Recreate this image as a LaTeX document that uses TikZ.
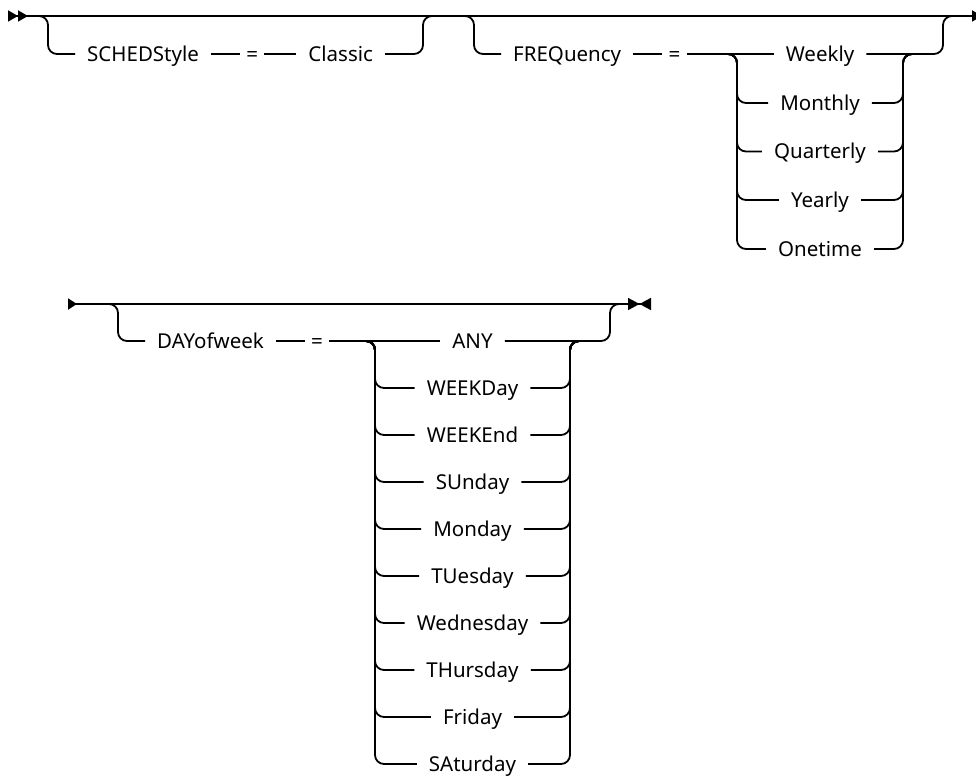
\documentclass[tikz,border=0pt]{standalone}
\usepackage{fontspec}
\setmainfont{Noto Sans}
\usetikzlibrary{positioning,arrows.meta}

\begin{document}
\begin{tikzpicture}[x=1pt, y=-1pt,
  rail/.style={line width=1.8pt, rounded corners=9pt},
  kw/.style={font=\fontsize{20.5}{25}\selectfont, inner xsep=12pt, inner ysep=0pt, text height=15pt, text depth=0pt},
  eqs/.style={kw, inner xsep=6pt}
]
\useasboundingbox (0,0) rectangle (976,778);
% row 1: junctions
\coordinate (r1start) at (8,16);
\coordinate (r1end) at (982,16);
\coordinate (schedIn) at (48,16);
\coordinate (schedOut) at (423,16);
\coordinate (freqIn) at (474,16);
\coordinate (freqOut) at (943,16);
\coordinate (freqL) at (737,54);
\coordinate (freqR) at (903,54);
% row 1: keywords
\node[kw, anchor=west] (sched) at (75,54) {SCHEDStyle};
\node[eqs, right=29pt of sched] (eq1) {=};
\node[kw, right=32pt of eq1] (classic) {Classic};
\node[kw, anchor=west] (freq) at (501,54) {FREQuency};
\node[eqs, right=29pt of freq] (eq2) {=};
\node[kw] (f1) at (820,54) {Weekly};
\node[kw] (f2) at (820,103) {Monthly};
\node[kw] (f3) at (820,151.5) {Quarterly};
\node[kw] (f4) at (820,200) {Yearly};
\node[kw] (f5) at (820,249) {Onetime};
% row 1: main line
\draw[rail, {Triangle[reversed, length=10pt, width=11pt, sep=0pt]Triangle[reversed, length=10pt, width=11pt, sep=0pt]}-{Triangle[length=10pt, width=11pt]}] (r1start) -- (r1end);
% SCHEDStyle
\draw[rail] ([xshift=-12pt]schedIn) -| (schedIn |- sched) -- (sched);
\draw[rail] (sched) -- (eq1);
\draw[rail] (eq1) -- (classic);
\draw[rail] (classic) -| (schedOut) -- ([xshift=12pt]schedOut);
% FREQuency
\draw[rail] ([xshift=-12pt]freqIn) -| (freqIn |- freq) -- (freq);
\draw[rail] (freq) -- (eq2);
\draw[rail] (eq2) -- (f1);
\draw[rail] (f1) -| (freqOut) -- ([xshift=12pt]freqOut);
\draw[rail] ([xshift=-12pt]freqL) -| (freqL |- f2) -- (f2);
\draw[rail] (f2) -| (freqR) -- ([xshift=12pt]freqR);
\draw[rail] ([xshift=-12pt]freqL) -| (freqL |- f3) -- (f3);
\draw[rail] (f3) -| (freqR) -- ([xshift=12pt]freqR);
\draw[rail] ([xshift=-12pt]freqL) -| (freqL |- f4) -- (f4);
\draw[rail] (f4) -| (freqR) -- ([xshift=12pt]freqR);
\draw[rail] ([xshift=-12pt]freqL) -| (freqL |- f5) -- (f5);
\draw[rail] (f5) -| (freqR) -- ([xshift=12pt]freqR);

% row 2: junctions
\coordinate (r2start) at (68,304);
\coordinate (r2end) at (651,304);
\coordinate (dayIn) at (118,304);
\coordinate (dayOut) at (610,304);
\coordinate (dayL) at (375,341);
\coordinate (dayR) at (570,341);
% row 2: keywords
\node[kw, anchor=west] (day) at (145,341) {DAYofweek};
\node[eqs, right=29pt of day] (eq3) {=};
\node[kw] (d1) at (472.5,341) {ANY};
\node[kw] (d2) at (472.5,388) {WEEKDay};
\node[kw] (d3) at (472.5,435) {WEEKEnd};
\node[kw] (d4) at (472.5,482) {SUnday};
\node[kw] (d5) at (472.5,529) {Monday};
\node[kw] (d6) at (472.5,576) {TUesday};
\node[kw] (d7) at (472.5,623) {Wednesday};
\node[kw] (d8) at (472.5,670) {THursday};
\node[kw] (d9) at (472.5,717) {Friday};
\node[kw] (d10) at (472.5,764) {SAturday};
% row 2: main line
\draw[rail, {Triangle[reversed, length=9pt, width=11pt]}-{Triangle[length=11.5pt, width=12pt, sep=0pt]Triangle[reversed, length=11.5pt, width=12pt, sep=0pt]}] (r2start) -- (r2end);
% DAYofweek
\draw[rail] ([xshift=-12pt]dayIn) -| (dayIn |- day) -- (day);
\draw[rail] (day) -- (eq3);
\draw[rail] (eq3) -- (d1);
\draw[rail] (d1) -| (dayOut) -- ([xshift=12pt]dayOut);
\draw[rail] ([xshift=-12pt]dayL) -| (dayL |- d2) -- (d2);
\draw[rail] (d2) -| (dayR) -- ([xshift=12pt]dayR);
\draw[rail] ([xshift=-12pt]dayL) -| (dayL |- d3) -- (d3);
\draw[rail] (d3) -| (dayR) -- ([xshift=12pt]dayR);
\draw[rail] ([xshift=-12pt]dayL) -| (dayL |- d4) -- (d4);
\draw[rail] (d4) -| (dayR) -- ([xshift=12pt]dayR);
\draw[rail] ([xshift=-12pt]dayL) -| (dayL |- d5) -- (d5);
\draw[rail] (d5) -| (dayR) -- ([xshift=12pt]dayR);
\draw[rail] ([xshift=-12pt]dayL) -| (dayL |- d6) -- (d6);
\draw[rail] (d6) -| (dayR) -- ([xshift=12pt]dayR);
\draw[rail] ([xshift=-12pt]dayL) -| (dayL |- d7) -- (d7);
\draw[rail] (d7) -| (dayR) -- ([xshift=12pt]dayR);
\draw[rail] ([xshift=-12pt]dayL) -| (dayL |- d8) -- (d8);
\draw[rail] (d8) -| (dayR) -- ([xshift=12pt]dayR);
\draw[rail] ([xshift=-12pt]dayL) -| (dayL |- d9) -- (d9);
\draw[rail] (d9) -| (dayR) -- ([xshift=12pt]dayR);
\draw[rail] ([xshift=-12pt]dayL) -| (dayL |- d10) -- (d10);
\draw[rail] (d10) -| (dayR) -- ([xshift=12pt]dayR);
\end{tikzpicture}
\end{document}
